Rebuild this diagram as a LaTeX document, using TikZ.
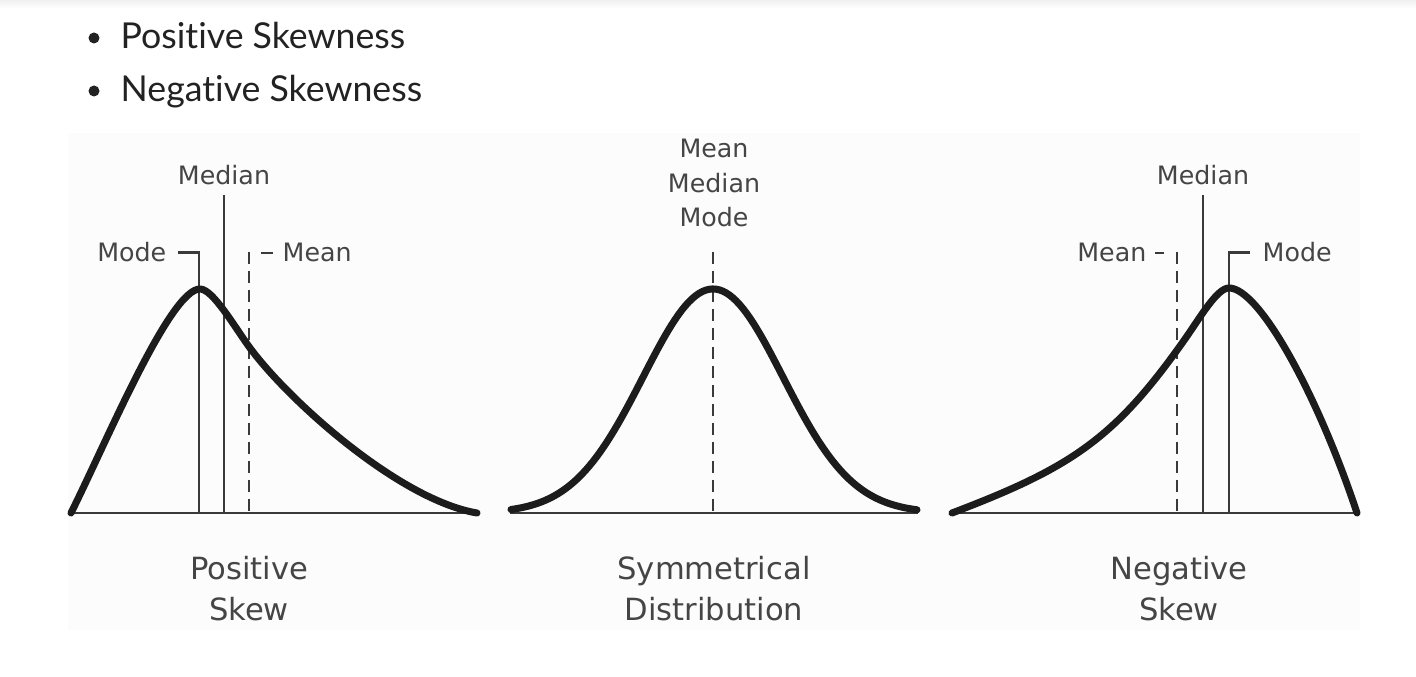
\documentclass[tikz,border=0pt]{standalone}
\usepackage{fontspec}
\setmainfont{DejaVu Sans}
\newfontfamily\latofont[Ligatures=NoCommon]{Lato}
\usepackage{tikz}
\definecolor{curve-black}{HTML}{1C1C1C}
\definecolor{line-grey}{HTML}{3A3A3A}
\definecolor{label-grey}{HTML}{454545}
\definecolor{text-dark}{HTML}{222222}
\definecolor{panel-bg}{HTML}{FCFCFC}

\begin{document}
\begin{tikzpicture}[x=0.01cm, y=-0.01cm,
    curve/.style={line width=2pt, curve-black, line cap=round, line join=round},
    guide/.style={line width=0.6pt, line-grey},
    meanline/.style={guide, dash pattern=on 3.4pt off 2pt},
    axis/.style={line width=0.8pt, line-grey},
    tag/.style={inner sep=0, text=label-grey, font=\fontsize{7.2}{9.9}\selectfont},
    caption/.style={inner sep=0, text=label-grey, align=center, font=\fontsize{8.7}{11.7}\selectfont},
    item/.style={inner sep=0, anchor=base west, text=text-dark, font=\latofont\fontsize{10.15}{12}\selectfont},
    dot/.style={circle, fill=text-dark, inner sep=0, minimum size=0.11cm}]

      \useasboundingbox (0,0) rectangle (1416,677);
      \fill[top color=gray!12, bottom color=white] (0,0) rectangle (1416,8);
      \fill[panel-bg] (68,133) rectangle (1360,630);

      % list
      \node[dot] (dot1) at (94,38) {};
      \node[item] (pos) at (120,49) {Positive Skewness};
      \node[dot] (dot2) at (94,91) {};
      \node[item] (neg) at (120,102) {Negative Skewness};

      % positive skew
      \coordinate (p-left) at (70,513);
      \coordinate (p-right) at (477,513);
      \coordinate (pmo-foot) at (199,513);
      \coordinate (pmd-top) at (224,195);
      \coordinate (pmd-foot) at (224,513);
      \coordinate (pme-top) at (249,252);
      \coordinate (pme-foot) at (249,513);
      \node[tag, anchor=base east] (pmo-lab) at (167,262) {Mode};
      \node[tag, anchor=base] (pmd-lab) at (224,185) {Median};
      \node[tag, anchor=base west] (pme-lab) at (282,262) {Mean};
      \draw[guide] ([xshift=0.11cm]pmo-lab.east) -| (pmo-foot);
      \draw[guide] (pmd-top) -- (pmd-foot);
      \draw[meanline] (pme-top) -- (pme-foot);
      \draw[guide] ([xshift=-0.09cm]pme-lab.west) -- ++(-12,0);
      \draw[axis] (p-left) -- (p-right);
      \draw[curve] (71,513) .. controls (106,443) and (170,289) .. (200,289)
        .. controls (213,289) and (235,327.7) .. (250,348)
        .. controls (290,402) and (400,500) .. (477,513);
      \node[caption, anchor=base] (p-cap) at (249,621) {Positive\\Skew};

      % symmetrical
      \coordinate (s-left) at (510,513);
      \coordinate (s-right) at (918,513);
      \coordinate (s-top) at (713,252);
      \coordinate (s-foot) at (713,513);
      \node[tag, anchor=base, align=center] (s-lab) at (714,227) {Mean\\Median\\Mode};
      \draw[meanline] (s-top) -- (s-foot);
      \draw[axis] (s-left) -- (s-right);
      \draw[curve] plot[domain=511:917, samples=120] (\x, {513-224*exp(-0.5*((\x-713)/70)^2)});
      \node[caption, anchor=base] (s-cap) at (714,621) {Symmetrical\\Distribution};

      % negative skew
      \coordinate (n-left) at (951,513);
      \coordinate (n-right) at (1357,513);
      \coordinate (nme-top) at (1177,252);
      \coordinate (nme-foot) at (1177,513);
      \coordinate (nmd-top) at (1203,195);
      \coordinate (nmd-foot) at (1203,513);
      \coordinate (nmo-foot) at (1229,513);
      \node[tag, anchor=base east] (nme-lab) at (1147,262) {Mean};
      \node[tag, anchor=base] (nmd-lab) at (1203,185) {Median};
      \node[tag, anchor=base west] (nmo-lab) at (1262,262) {Mode};
      \draw[meanline] (nme-top) -- (nme-foot);
      \draw[guide] ([xshift=0.08cm]nme-lab.east) -- ++(9,0);
      \draw[guide] (nmd-top) -- (nmd-foot);
      \draw[guide] ([xshift=-0.12cm]nmo-lab.west) -| (nmo-foot);
      \draw[axis] (n-left) -- (n-right);
      \draw[curve] (952,513) .. controls (1072,467.4) and (1115,438.4) .. (1185,339)
        .. controls (1200,317.7) and (1217,288) .. (1229,288)
        .. controls (1259,288) and (1317,393) .. (1357,513);
      \node[caption, anchor=base] (n-cap) at (1179,621) {Negative\\Skew};
    \end{tikzpicture}
\end{document}
